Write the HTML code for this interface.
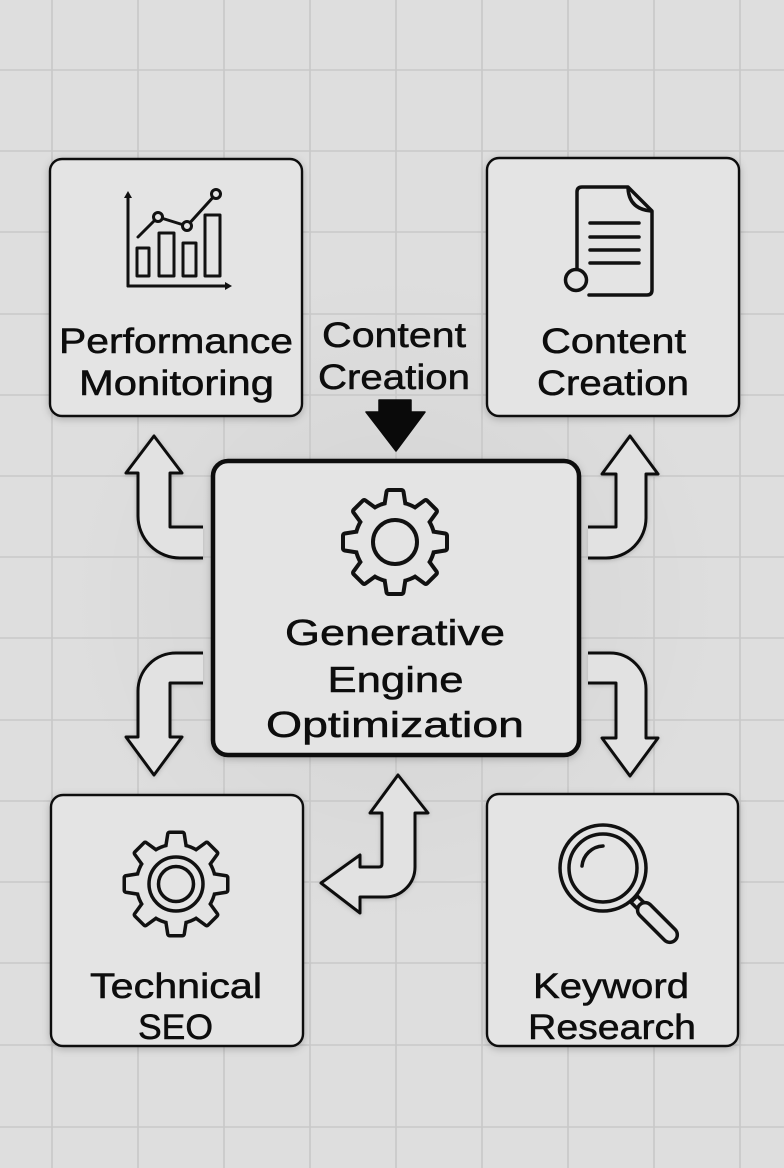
<!DOCTYPE html>
<html>
<head>
<meta charset="utf-8">
<style>
  html,body{margin:0;padding:0;background:#dedede;}
  svg{display:block;}
  text{font-family:"Liberation Sans","DejaVu Sans",sans-serif;fill:#0d0d0d;stroke:#0d0d0d;stroke-width:0.55;}
</style>
</head>
<body>
<svg width="784" height="1168" viewBox="0 0 784 1168" xmlns="http://www.w3.org/2000/svg">
  <defs>
    <filter id="sh" x="-20%" y="-20%" width="140%" height="140%">
      <feDropShadow dx="0" dy="2" stdDeviation="4" flood-color="#000" flood-opacity="0.22"/>
    </filter>
    <filter id="sh2" x="-20%" y="-20%" width="140%" height="140%">
      <feDropShadow dx="0" dy="1" stdDeviation="2.5" flood-color="#000" flood-opacity="0.18"/>
    </filter>
    <radialGradient id="vig" cx="395" cy="600" r="330" gradientUnits="userSpaceOnUse">
      <stop offset="0" stop-color="#000" stop-opacity="0.05"/>
      <stop offset="1" stop-color="#000" stop-opacity="0"/>
    </radialGradient>
    <g id="gearshape">
      <circle r="38"/>
      <polygon points="-9,-34 -6.5,-50 6.5,-50 9,-34"/>
      <polygon points="-9,-34 -6.5,-50 6.5,-50 9,-34" transform="rotate(45)"/>
      <polygon points="-9,-34 -6.5,-50 6.5,-50 9,-34" transform="rotate(90)"/>
      <polygon points="-9,-34 -6.5,-50 6.5,-50 9,-34" transform="rotate(135)"/>
      <polygon points="-9,-34 -6.5,-50 6.5,-50 9,-34" transform="rotate(180)"/>
      <polygon points="-9,-34 -6.5,-50 6.5,-50 9,-34" transform="rotate(225)"/>
      <polygon points="-9,-34 -6.5,-50 6.5,-50 9,-34" transform="rotate(270)"/>
      <polygon points="-9,-34 -6.5,-50 6.5,-50 9,-34" transform="rotate(315)"/>
    </g>
  </defs>

  <!-- background -->
  <rect x="0" y="0" width="784" height="1168" fill="#dedede"/>
  <rect x="0" y="0" width="784" height="1168" fill="url(#vig)"/>

  <!-- grid -->
  <g stroke="#c8c8c8" stroke-width="1.6">
    <line x1="52" y1="0" x2="52" y2="1168"/>
    <line x1="138" y1="0" x2="138" y2="1168"/>
    <line x1="224" y1="0" x2="224" y2="1168"/>
    <line x1="310" y1="0" x2="310" y2="1168"/>
    <line x1="396" y1="0" x2="396" y2="1168"/>
    <line x1="482" y1="0" x2="482" y2="1168"/>
    <line x1="568" y1="0" x2="568" y2="1168"/>
    <line x1="654" y1="0" x2="654" y2="1168"/>
    <line x1="740" y1="0" x2="740" y2="1168"/>
    <line x1="0" y1="70" x2="784" y2="70"/>
    <line x1="0" y1="151" x2="784" y2="151"/>
    <line x1="0" y1="232" x2="784" y2="232"/>
    <line x1="0" y1="314" x2="784" y2="314"/>
    <line x1="0" y1="395" x2="784" y2="395"/>
    <line x1="0" y1="476" x2="784" y2="476"/>
    <line x1="0" y1="557" x2="784" y2="557"/>
    <line x1="0" y1="638" x2="784" y2="638"/>
    <line x1="0" y1="720" x2="784" y2="720"/>
    <line x1="0" y1="801" x2="784" y2="801"/>
    <line x1="0" y1="882" x2="784" y2="882"/>
    <line x1="0" y1="963" x2="784" y2="963"/>
    <line x1="0" y1="1045" x2="784" y2="1045"/>
    <line x1="0" y1="1127" x2="784" y2="1127"/>
  </g>

  <!-- outer boxes -->
  <g fill="#e4e4e4" stroke="#111" stroke-width="2.4" filter="url(#sh)">
    <rect x="50" y="159" width="252" height="257" rx="12"/>
    <rect x="487" y="158" width="252" height="258" rx="12"/>
    <rect x="51" y="795" width="252" height="251" rx="12"/>
    <rect x="487" y="794" width="251" height="252" rx="12"/>
  </g>

  <!-- curved arrows -->
  <g fill="#e2e2e2" stroke="#111" stroke-width="3" stroke-linejoin="round" filter="url(#sh2)">
    <path d="M203 527 L170 527 L170 473 L182 473 L154 436 L126 473 L138 473 L138 516 A42 42 0 0 0 180 558 L203 558"/>
    <path d="M203 653 L176 653 A38 38 0 0 0 138 691 L138 737 L126 737 L154 775 L182 737 L170 737 L170 683 L203 683"/>
    <path d="M588 527 L616 527 L616 474 L602 474 L630 436 L658 474 L646 474 L646 518 A40 40 0 0 1 606 558 L588 558"/>
    <path d="M588 653 L610 653 A36 36 0 0 1 646 689 L646 738 L658 738 L630 776 L602 738 L616 738 L616 683 L588 683"/>
    <path d="M382 813 L370 813 L398 775 L428 813 L415 813 L415 867 A30 30 0 0 1 385 897 L360 897 L360 913 L321 883 L360 855 L360 867 L379 867 Q382 867 382 864 Z"/>
  </g>

  <!-- center box -->
  <rect x="213" y="461" width="366" height="294" rx="15" fill="#e4e4e4" stroke="#0d0d0d" stroke-width="4.5" filter="url(#sh)"/>

  <!-- black down arrow -->
  <path d="M379 400 L411 400 L411 412 L425 412 L396 451 L366 412 L379 412 Z" fill="#0a0a0a" stroke="#0a0a0a" stroke-width="1.5" stroke-linejoin="round"/>

  <!-- chart icon -->
  <g fill="none" stroke="#111" stroke-width="3" stroke-linecap="round" stroke-linejoin="round">
    <line x1="128" y1="197" x2="128" y2="286"/>
    <line x1="128" y1="286" x2="226" y2="286"/>
    <rect x="137" y="248" width="12" height="28"/>
    <rect x="159" y="233" width="15" height="43"/>
    <rect x="183" y="243" width="13" height="33"/>
    <rect x="205" y="215" width="15" height="61"/>
    <polyline points="138,237 158,217 187,226 216,194"/>
  </g>
  <path d="M124 198 L128 191 L132 198 Z" fill="#111"/>
  <path d="M225 282 L232 286 L225 290 Z" fill="#111"/>
  <g fill="#e4e4e4" stroke="#111" stroke-width="3">
    <circle cx="158" cy="217" r="4.5"/>
    <circle cx="187" cy="226" r="4.5"/>
    <circle cx="216" cy="194" r="4.5"/>
  </g>

  <!-- document icon -->
  <g fill="none" stroke="#111" stroke-width="3.5" stroke-linecap="round" stroke-linejoin="round">
    <path d="M577 268 L577 192 Q577 187 582 187 L628 187 L652 211 L652 290 Q652 295 647 295 L589 295"/>
    <path d="M628 188 Q629 209 651 211"/>
    <circle cx="576" cy="280" r="10.5"/>
    <line x1="590" y1="223" x2="639" y2="223"/>
    <line x1="590" y1="237" x2="639" y2="237"/>
    <line x1="590" y1="250" x2="639" y2="250"/>
    <line x1="590" y1="263" x2="639" y2="263"/>
  </g>

  <!-- center gear -->
  <g transform="translate(395,542)">
    <use href="#gearshape" fill="#111" stroke="#111" stroke-width="8" stroke-linejoin="round"/>
    <use href="#gearshape" fill="#e4e4e4" stroke="none"/>
    <circle r="22" fill="none" stroke="#111" stroke-width="4"/>
  </g>

  <!-- technical SEO gear -->
  <g transform="translate(176,884)">
    <use href="#gearshape" fill="#111" stroke="#111" stroke-width="7" stroke-linejoin="round"/>
    <use href="#gearshape" fill="#e4e4e4" stroke="none"/>
    <circle r="27" fill="none" stroke="#111" stroke-width="3.5"/>
    <circle r="17.5" fill="none" stroke="#111" stroke-width="3.5"/>
  </g>

  <!-- magnifier -->
  <g fill="none" stroke="#111" stroke-width="3.5" stroke-linecap="round" stroke-linejoin="round">
    <circle cx="603" cy="868" r="43"/>
    <circle cx="603" cy="868" r="34"/>
    <path d="M582 866 A22 22 0 0 1 603 846"/>
    <g transform="translate(603,868) rotate(45)">
      <rect x="44" y="-4.5" width="9" height="9" fill="#e4e4e4"/>
      <rect x="52" y="-7.5" width="50" height="15" rx="7.5" fill="#e4e4e4"/>
    </g>
  </g>

  <!-- texts -->
  <g font-size="35">
    <text x="176" y="353" text-anchor="middle" textLength="234" lengthAdjust="spacingAndGlyphs">Performance</text>
    <text x="176.5" y="395" text-anchor="middle" textLength="195" lengthAdjust="spacingAndGlyphs">Monitoring</text>

    <text x="394" y="347" text-anchor="middle" textLength="144" lengthAdjust="spacingAndGlyphs">Content</text>
    <text x="394" y="389" text-anchor="middle" textLength="152" lengthAdjust="spacingAndGlyphs">Creation</text>

    <text x="613.5" y="353" text-anchor="middle" textLength="145" lengthAdjust="spacingAndGlyphs">Content</text>
    <text x="613" y="395" text-anchor="middle" textLength="152" lengthAdjust="spacingAndGlyphs">Creation</text>

    <text x="176" y="998" text-anchor="middle" textLength="172" lengthAdjust="spacingAndGlyphs">Technical</text>
    <text x="175.5" y="1039" text-anchor="middle" textLength="75" lengthAdjust="spacingAndGlyphs">SEO</text>

    <text x="611" y="998" text-anchor="middle" textLength="156" lengthAdjust="spacingAndGlyphs">Keyword</text>
    <text x="612" y="1039" text-anchor="middle" textLength="168" lengthAdjust="spacingAndGlyphs">Research</text>
  </g>
  <g font-size="36">
    <text x="395" y="645" text-anchor="middle" textLength="220" lengthAdjust="spacingAndGlyphs">Generative</text>
    <text x="395.5" y="692" text-anchor="middle" textLength="136" lengthAdjust="spacingAndGlyphs">Engine</text>
    <text x="395" y="737" text-anchor="middle" textLength="258" lengthAdjust="spacingAndGlyphs">Optimization</text>
  </g>
</svg>
</body>
</html>
